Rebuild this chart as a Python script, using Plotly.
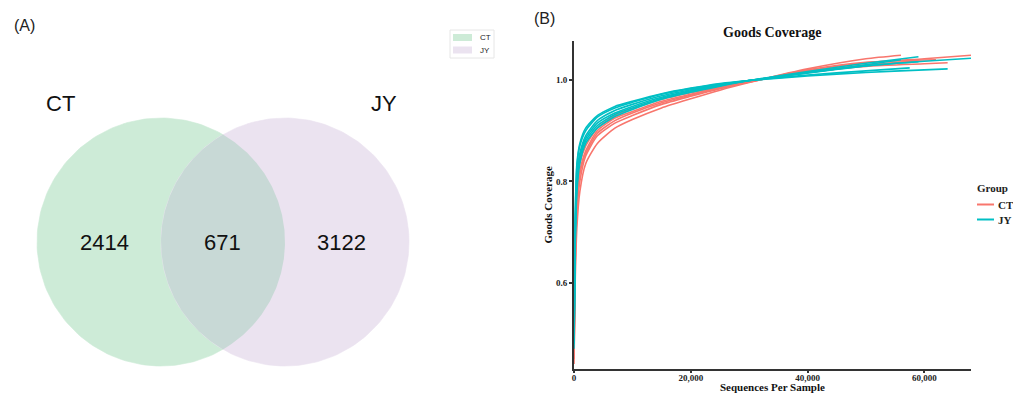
import numpy as np
import plotly.graph_objects as go

# ---------------- Data ----------------
venn_sets = ["CT", "JY"]
venn_counts = {"CT_only": 2414, "both": 671, "JY_only": 3122}

xs_base = [0, 200, 500, 1000, 2000, 4000, 7000, 10000, 15000, 20000, 25000, 30000, 40000, 50000]

ct_curves = [
    (xs_base + [56000], [0.44, 0.60, 0.71, 0.78, 0.835, 0.875, 0.905, 0.922, 0.945, 0.963, 0.980, 0.995, 1.022, 1.042, 1.049]),
    (xs_base + [60000, 68000], [0.45, 0.63, 0.74, 0.80, 0.850, 0.890, 0.915, 0.930, 0.952, 0.968, 0.983, 0.996, 1.018, 1.034, 1.042, 1.049]),
    (xs_base + [60000, 64000], [0.46, 0.66, 0.76, 0.82, 0.860, 0.900, 0.925, 0.938, 0.958, 0.972, 0.985, 0.997, 1.015, 1.027, 1.032, 1.034]),
    (xs_base + [59000], [0.47, 0.68, 0.78, 0.835, 0.870, 0.905, 0.930, 0.943, 0.962, 0.975, 0.987, 0.998, 1.016, 1.030, 1.038]),
    (xs_base + [62000], [0.45, 0.64, 0.75, 0.815, 0.855, 0.895, 0.920, 0.935, 0.955, 0.970, 0.984, 0.996, 1.020, 1.035, 1.040]),
]

jy_curves = [
    (xs_base + [60000, 64000], [0.50, 0.73, 0.835, 0.875, 0.905, 0.930, 0.948, 0.958, 0.973, 0.984, 0.993, 0.999, 1.008, 1.015, 1.020, 1.022]),
    (xs_base + [57500], [0.50, 0.72, 0.83, 0.870, 0.900, 0.927, 0.945, 0.956, 0.972, 0.983, 0.992, 0.999, 1.010, 1.018, 1.024]),
    (xs_base + [60000, 68000], [0.48, 0.69, 0.80, 0.850, 0.885, 0.915, 0.935, 0.948, 0.966, 0.979, 0.990, 0.999, 1.015, 1.028, 1.037, 1.043]),
    (xs_base + [59000], [0.47, 0.67, 0.78, 0.835, 0.875, 0.905, 0.928, 0.942, 0.962, 0.976, 0.988, 0.999, 1.017, 1.033, 1.046]),
    (xs_base + [56000], [0.49, 0.70, 0.81, 0.855, 0.890, 0.920, 0.940, 0.952, 0.969, 0.981, 0.991, 0.999, 1.014, 1.030, 1.040]),
    (xs_base + [59000], [0.48, 0.68, 0.79, 0.845, 0.880, 0.910, 0.932, 0.945, 0.964, 0.978, 0.989, 0.999, 1.014, 1.028, 1.036]),
]

groups = ["CT", "JY"]
x_ticks = [0, 20000, 40000, 60000]
y_ticks = [0.6, 0.8, 1.0]

CT_COLOR = "#F8766D"
JY_COLOR = "#00BFC4"
VENN_CT = "#cdebd7"
VENN_JY = "#ebe3f0"
VENN_BOTH = "#c8d9d6"

W, H = 1013, 394
fig = go.Figure()

def px_x(p):
    return p / W

def px_y(p):
    return (H - p) / H

# ---------------- Panel A: Venn (pixel-like coordinate system) ----------------
cy, r = 242, 124
cx_ct, cx_jy = 161, 285

def circle_path(cx, cy, r, t0=0, t1=2 * np.pi, n=200):
    t = np.linspace(t0, t1, n)
    return cx + r * np.cos(t), cy + r * np.sin(t)

for cx, col in [(cx_ct, VENN_CT), (cx_jy, VENN_JY)]:
    px, py = circle_path(cx, cy, r)
    fig.add_trace(go.Scatter(x=px, y=py, mode="lines", fill="toself", fillcolor=col,
                             line=dict(width=0.6, color=col), hoverinfo="skip",
                             showlegend=False, xaxis="x", yaxis="y"))

# lens (intersection)
d = cx_jy - cx_ct
h_ang = np.arccos(d / 2 / r)
ax1, ay1 = circle_path(cx_ct, cy, r, -h_ang, h_ang)
ax2, ay2 = circle_path(cx_jy, cy, r, np.pi - h_ang, np.pi + h_ang)
fig.add_trace(go.Scatter(x=np.concatenate([ax1, ax2]), y=np.concatenate([ay1, ay2]),
                         mode="lines", fill="toself", fillcolor=VENN_BOTH,
                         line=dict(width=0, color=VENN_BOTH), hoverinfo="skip",
                         showlegend=False, xaxis="x", yaxis="y"))

venn_font = dict(family="Liberation Sans, Arial", size=22, color="#111")
annots = [
    dict(x=104, y=242, text=str(venn_counts["CT_only"])),
    dict(x=222, y=242, text=str(venn_counts["both"])),
    dict(x=341, y=242, text=str(venn_counts["JY_only"])),
    dict(x=60, y=103, text=venn_sets[0]),
    dict(x=384, y=103, text=venn_sets[1]),
]
for a in annots:
    fig.add_annotation(x=a["x"], y=a["y"], text=a["text"], xref="x", yref="y",
                       showarrow=False, font=venn_font, xanchor="center", yanchor="middle")

# Venn legend box
fig.add_shape(type="rect", x0=450, x1=494, y0=30, y1=58, xref="x", yref="y",
              line=dict(color="#e6e6e6", width=1), fillcolor="white", layer="below")
for yy, col, lab in [(37.5, VENN_CT, venn_sets[0]), (50, VENN_JY, venn_sets[1])]:
    fig.add_shape(type="rect", x0=453, x1=472, y0=yy - 3.5, y1=yy + 3.5, xref="x", yref="y",
                  line=dict(width=0), fillcolor=col)
    fig.add_annotation(x=478, y=yy, text=lab, xref="x", yref="y", showarrow=False,
                       xanchor="left", yanchor="middle",
                       font=dict(family="Liberation Sans, Arial", size=8, color="#222"))

# ---------------- Panel B: Goods coverage curves ----------------
for i, (xv, yv) in enumerate(ct_curves):
    fig.add_trace(go.Scatter(x=xv, y=yv, mode="lines",
                             line=dict(color=CT_COLOR, width=1.6, shape="spline", smoothing=0.6),
                             name="CT", legendgroup="CT", showlegend=False,
                             xaxis="x2", yaxis="y2"))
for i, (xv, yv) in enumerate(jy_curves):
    fig.add_trace(go.Scatter(x=xv, y=yv, mode="lines",
                             line=dict(color=JY_COLOR, width=1.6, shape="spline", smoothing=0.6),
                             name="JY", legendgroup="JY", showlegend=False,
                             xaxis="x2", yaxis="y2"))

serif = "Liberation Serif, Times New Roman, serif"
bold_serif = lambda s, c="#111": dict(family=serif, size=s, color=c, weight="bold")

fig.update_layout(
    width=W, height=H, autosize=False, margin=dict(l=0, r=0, t=0, b=0, autoexpand=False),
    paper_bgcolor="white", plot_bgcolor="rgba(0,0,0,0)",
    xaxis=dict(domain=[0, 520 / W], range=[0, 520], visible=False, fixedrange=True),
    yaxis=dict(domain=[0, 1], range=[394, 0], visible=False, fixedrange=True),
    xaxis2=dict(domain=[574 / W, 971 / W], range=[0, 68000], anchor="y2",
                tickvals=x_ticks, tickformat=",", showgrid=False, zeroline=False,
                showline=True, linecolor="#333", linewidth=2, ticks="outside", ticklen=2,
                tickcolor="#333", tickwidth=1.5, ticklabelstandoff=-3,
                tickfont=bold_serif(9, "#222")),
    yaxis2=dict(domain=[px_y(369), px_y(40.7)], range=[0.43, 1.0776], anchor="x2",
                tickvals=y_ticks, tickformat=".1f", showgrid=False, zeroline=False,
                showline=True, linecolor="#333", linewidth=2, ticks="outside", ticklen=3,
                tickcolor="#333", tickwidth=1.5,
                tickfont=bold_serif(9, "#222"),
                title=dict(text="Goods Coverage", standoff=1, font=bold_serif(11))),
    showlegend=False,
)

# x-axis title
fig.add_annotation(x=px_x(772), y=px_y(394), xref="paper", yref="paper", text="Sequences Per Sample",
                   showarrow=False, xanchor="center", yanchor="bottom", borderpad=0,
                   font=bold_serif(11))

# Group legend (panel B)
fig.add_annotation(x=px_x(975), y=px_y(188), xref="paper", yref="paper", text="Group",
                   showarrow=False, xanchor="left", yanchor="middle", font=bold_serif(11, "#222"))
for g, col, yy in [(groups[0], CT_COLOR, 204.5), (groups[1], JY_COLOR, 219.5)]:
    fig.add_shape(type="line", x0=px_x(977), x1=px_x(994), y0=px_y(yy), y1=px_y(yy),
                  xref="paper", yref="paper", line=dict(color=col, width=2))
    fig.add_annotation(x=px_x(996), y=px_y(yy), xref="paper", yref="paper", text=g,
                       showarrow=False, xanchor="left", yanchor="middle", font=bold_serif(11, "#222"))

fig.add_annotation(x=px_x(772), y=px_y(32), xref="paper", yref="paper", text="Goods Coverage",
                   showarrow=False, xanchor="center", yanchor="middle", font=bold_serif(14))
fig.add_annotation(x=px_x(12), y=px_y(26), xref="paper", yref="paper", text="(A)",
                   showarrow=False, xanchor="left", yanchor="middle",
                   font=dict(family="Liberation Sans, Arial", size=16, color="#222"))
fig.add_annotation(x=px_x(532), y=px_y(18), xref="paper", yref="paper", text="(B)",
                   showarrow=False, xanchor="left", yanchor="middle",
                   font=dict(family="Liberation Sans, Arial", size=16, color="#222"))

fig.write_html("out.html", config={"responsive": False},
               post_script="document.body.style.margin='0';document.body.style.overflow='hidden';document.documentElement.style.overflow='hidden';")
